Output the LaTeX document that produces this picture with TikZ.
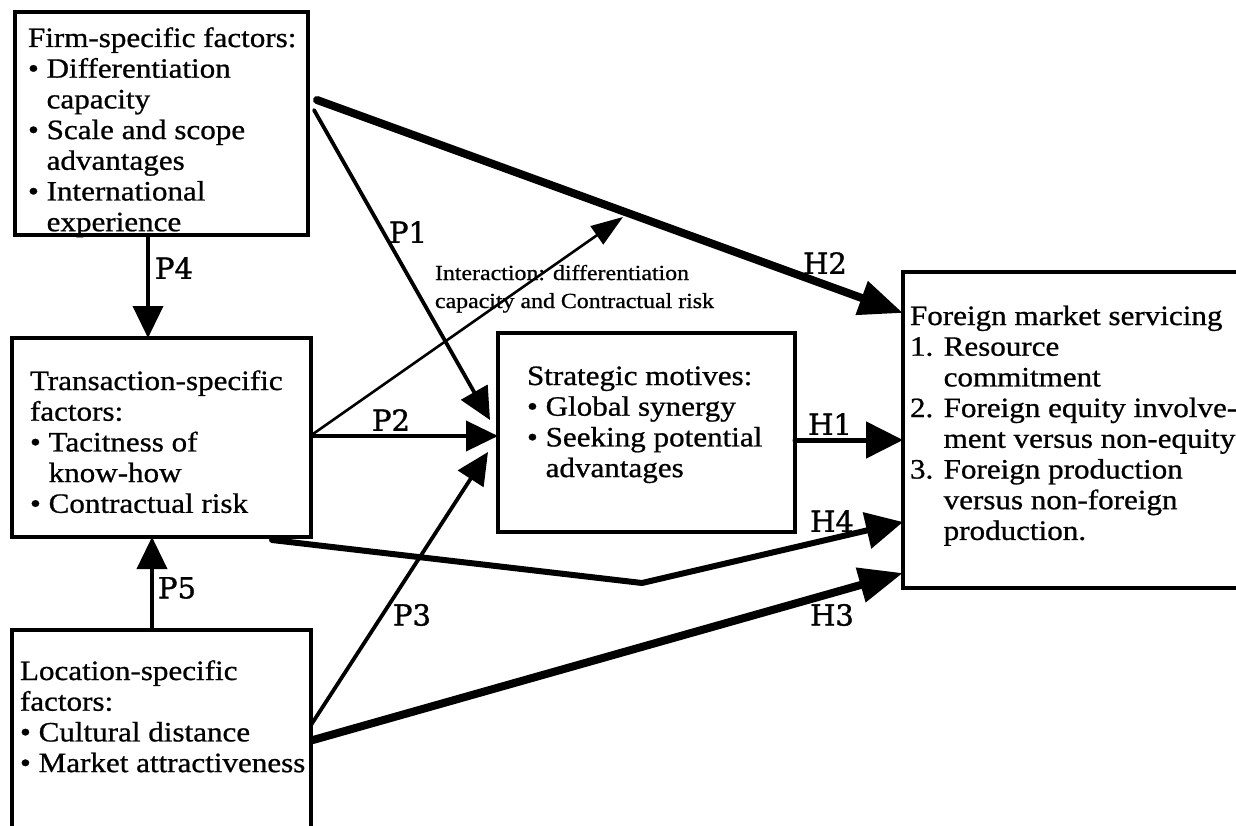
\documentclass[tikz,border=0pt]{standalone}
\usepackage{fontspec}
\setmainfont[FakeStretch=1.11,FakeBold=0.8]{Liberation Serif}
\newfontfamily\labfont[FakeBold=1.2]{DejaVu Serif}
\usetikzlibrary{arrows.meta,calc}
\newcommand{\txtlines}[1]{\vtop{\halign{##\hfil\cr#1\crcr}}}
\newcommand{\bl}{\textbullet\ }
\newcommand{\ind}{\phantom{\textbullet\ }}
\newcommand{\nind}{\phantom{1. }}
\begin{document}
\begin{tikzpicture}[x=1pt,y=-1pt,
  box/.style={draw, line width=3.3pt, inner sep=0pt, outer sep=0pt, anchor=north west},
  txt/.style={inner sep=0pt, outer sep=0pt, anchor=base west, font=\fontsize{28}{30.7}\selectfont},
  smalltxt/.style={inner sep=0pt, outer sep=0pt, anchor=base west, font=\fontsize{21.5}{28}\selectfont},
  lab/.style={inner sep=0pt, font=\labfont\fontsize{29}{29}\selectfont},
  conn/.style={line cap=round},
  parr/.style={conn, line width=3.8pt, -{Triangle[length=32pt,width=30pt]}},
  thinarr/.style={conn, line width=2.6pt, -{Triangle[length=32pt,width=22pt]}},
  harr/.style={conn, line width=5pt, -{Triangle[length=37pt,width=36pt]}},
  hfat/.style={conn, line width=8pt, -{Triangle[length=44pt,width=34pt]}}
]
\useasboundingbox (0,0) rectangle (1236,826);
\clip (0,0) rectangle (1236,826);
\fill[white] (0,0) rectangle (1236,826);

% boxes
\node[box, minimum width=293pt, minimum height=223pt] (firm) at (15,12) {};
\node[box, minimum width=299pt, minimum height=199pt] (trans) at (12,338) {};
\node[box, minimum width=299pt, minimum height=240pt] (loc) at (12,630) {};
\node[box, minimum width=297pt, minimum height=199pt] (strat) at (498,333) {};
\node[box, line width=3.8pt, minimum width=360pt, minimum height=316pt] (fms) at (903,272) {};

% texts
\node[txt] (firmtxt) at (28,47) {\txtlines{Firm-specific factors:\cr
\bl Differentiation\cr
\ind capacity\cr
\bl Scale and scope\cr
\ind advantages\cr
\bl International\cr
\ind experience}};
\node[txt] (transtxt) at (30,390) {\txtlines{Transaction-specific\cr
factors:\cr
\bl Tacitness of\cr
\ind know-how\cr
\bl Contractual risk}};
\node[txt] (loctxt) at (20,680) {\txtlines{Location-specific\cr
factors:\cr
\bl Cultural distance\cr
\bl Market attractiveness}};
\node[txt] (strattxt) at (527,385) {\txtlines{Strategic motives:\cr
\bl Global synergy\cr
\bl Seeking potential\cr
\ind advantages}};
\node[txt] (fmstxt) at (910,325) {\txtlines{Foreign market servicing\cr
1. Resource\cr
\nind commitment\cr
2. Foreign equity involve-\cr
\nind ment versus non-equity\cr
3. Foreign production\cr
\nind versus non-foreign\cr
\nind production.}};
\node[smalltxt] (intertxt) at (435,280) {\txtlines{Interaction: differentiation\cr
capacity and Contractual risk}};

% connectors
\coordinate (h4bend) at (642,583);
\coordinate (intertip) at (623,217);
\draw[parr] ([xshift=133pt]firm.south west) -- ([xshift=136pt]trans.north west);
\draw[parr] ([xshift=140pt]loc.north west) -- ([xshift=140pt]trans.south west);
\draw[parr] ([xshift=6pt,yshift=-98pt]firm.north east) -- ([xshift=-8pt,yshift=-87pt]strat.north west);
\draw[hfat] ([xshift=9pt,yshift=-88pt]firm.north east) -- ([yshift=-41pt]fms.north west);
\draw[thinarr] ([xshift=2pt,yshift=-96pt]trans.north east) -- (intertip);
\draw[parr] ([yshift=-98pt]trans.north east) -- ([yshift=-103pt]strat.north west);
\draw[parr] ([yshift=-95pt]loc.north east) -- ([xshift=-10pt,yshift=-119pt]strat.north west);
\draw[harr] ([yshift=-107pt]strat.north east) -- ([yshift=-168pt]fms.north west);
\draw[harr, line width=6pt, line join=round] ([xshift=260pt,yshift=-3pt]trans.south west) -- (h4bend) -- ([yshift=-250pt]fms.north west);
\draw[hfat] ([xshift=2pt,yshift=-110pt]loc.north east) -- ([yshift=-301pt]fms.north west);

% labels
\node[lab] (lp1) at (408,232) {P1};
\node[lab] (lp4) at (174,268) {P4};
\node[lab] (lp2) at (391,420) {P2};
\node[lab] (lp5) at (177,588) {P5};
\node[lab] (lp3) at (412,615) {P3};
\node[lab] (lh2) at (825,263) {H2};
\node[lab] (lh1) at (830,424) {H1};
\node[lab] (lh4) at (832,521) {H4};
\node[lab] (lh3) at (832,615) {H3};
\end{tikzpicture}
\end{document}
